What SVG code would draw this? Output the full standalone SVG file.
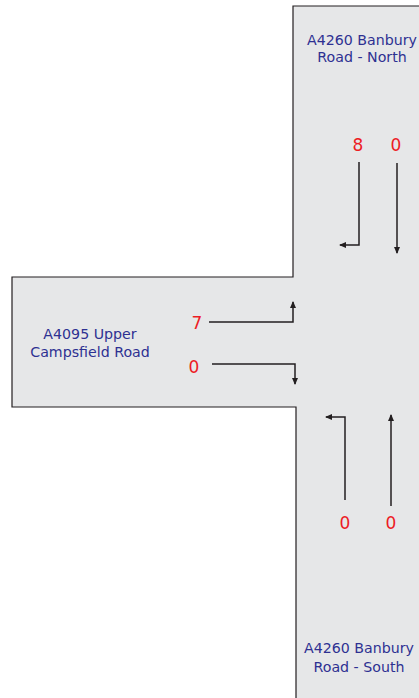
<svg xmlns="http://www.w3.org/2000/svg" width="419" height="698" viewBox="0 0 419 698">
<style>
.road{fill:#e6e7e8;stroke:none}
.edge{fill:none;stroke:#231f20;stroke-width:1.2}
.lbl{font-family:"DejaVu Sans",Verdana,sans-serif;font-size:14.2px;fill:#2e3192;text-anchor:middle}
.num{font-family:"DejaVu Sans",Verdana,sans-serif;font-size:17px;fill:#ed1c24;text-anchor:middle}
.arr{fill:none;stroke:#231f20;stroke-width:1.5}
</style>
<defs>
<marker id="ah" markerWidth="8" markerHeight="8" refX="6" refY="3" orient="auto" markerUnits="userSpaceOnUse">
<path d="M0,0 L7,3 L0,6 Z" fill="#231f20"/>
</marker>
</defs>
<g id="roads">
<path class="road" d="M293,6 L419,6 L419,698 L296,698 L296,407 L12,407 L12,277 L293,277 Z"/>
<path class="edge" d="M419,6 L293,6 L293,277 L12,277 L12,407 L296,407 L296,698"/>
</g>
<g id="north">
<text class="lbl" x="362" y="45">A4260 Banbury</text>
<text class="lbl" x="362" y="62">Road - North</text>
</g>
<g id="west">
<text class="lbl" x="90" y="339">A4095 Upper</text>
<text class="lbl" x="90" y="357">Campsfield Road</text>
</g>
<g id="south">
<text class="lbl" x="359" y="653">A4260 Banbury</text>
<text class="lbl" x="359" y="672">Road - South</text>
</g>
<g id="counts">
<text class="num" x="358" y="151">8</text>
<text class="num" x="396" y="151">0</text>
<text class="num" x="197" y="329">7</text>
<text class="num" x="194" y="373">0</text>
<text class="num" x="345" y="529">0</text>
<text class="num" x="391" y="529">0</text>
</g>
<g id="connectors">
<path class="arr" d="M359,162 L359,245 L340,245" marker-end="url(#ah)"/>
<path class="arr" d="M397,163 L397,253" marker-end="url(#ah)"/>
<path class="arr" d="M209,322 L293,322 L293,302" marker-end="url(#ah)"/>
<path class="arr" d="M212,364 L295,364 L295,384" marker-end="url(#ah)"/>
<path class="arr" d="M345,500 L345,417 L326,417" marker-end="url(#ah)"/>
<path class="arr" d="M391,506 L391,415" marker-end="url(#ah)"/>
</g>
</svg>
